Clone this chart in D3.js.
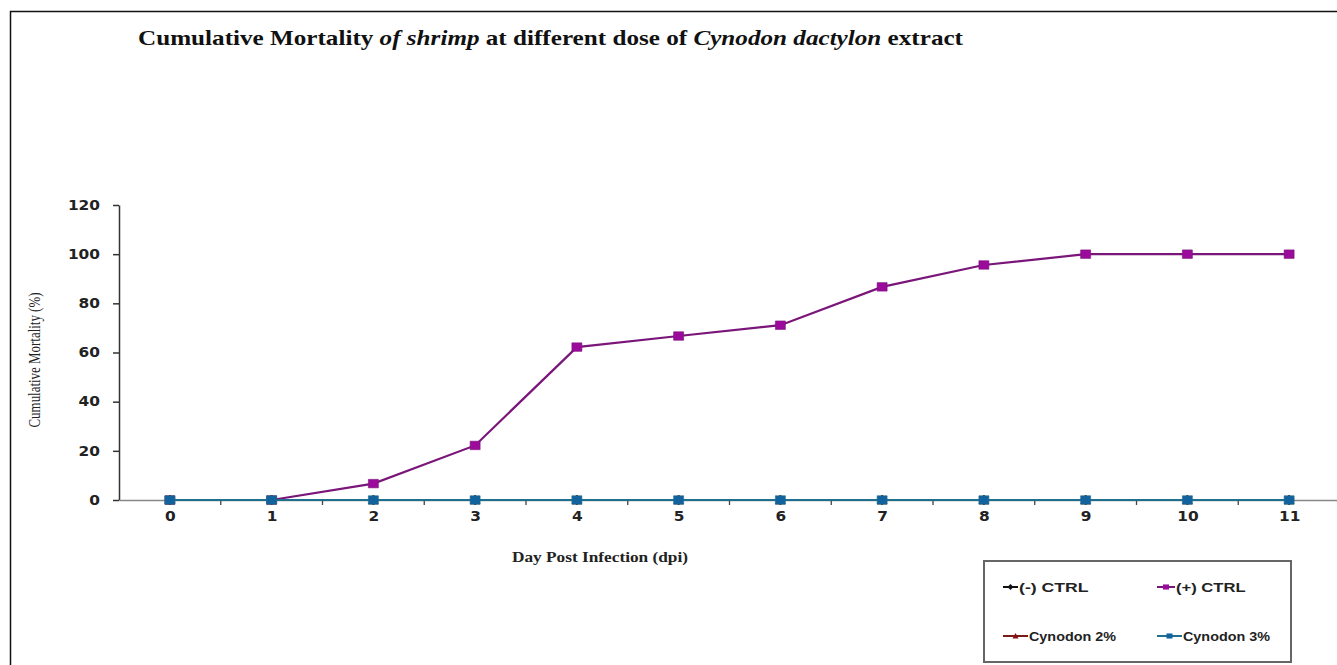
<!DOCTYPE html>
<html>
<head>
<meta charset="utf-8">
<script src="https://cdn.jsdelivr.net/npm/d3@7"></script>
<style>
  html, body { margin: 0; padding: 0; background: #fff; }
  svg { display: block; }
</style>
</head>
<body>
<svg id="chart" width="1337" height="665"></svg>
<script>
// ---- data ----
const days = [0, 1, 2, 3, 4, 5, 6, 7, 8, 9, 10, 11];
const negCtrl = [0, 0, 0, 0, 0, 0, 0, 0, 0, 0, 0, 0];
const posCtrl = [0, 0, 6.67, 22.2, 62.2, 66.7, 71.1, 86.7, 95.6, 100, 100, 100];
const cynodon2 = [0, 0, 0, 0, 0, 0, 0, 0, 0, 0, 0, 0];
const cynodon3 = [0, 0, 0, 0, 0, 0, 0, 0, 0, 0, 0, 0];
const yTicks = [0, 20, 40, 60, 80, 100, 120];
const seriesNames = ["(-) CTRL", "(+) CTRL", "Cynodon 2%", "Cynodon 3%"];

// ---- chart ----
const svg = d3.select("#chart");

// outer frame (left + top)
svg.append("path").attr("d", "M10.5,665 L10.5,11.5 L1337,11.5")
  .attr("fill", "none").attr("stroke", "#111").attr("stroke-width", 1.5);

// title
const title = svg.append("text").attr("x", 138).attr("y", 45)
  .attr("font-family", "Liberation Serif, Times New Roman, serif")
  .attr("font-weight", "bold").attr("font-size", 22).attr("fill", "#111")
  .attr("textLength", 825).attr("lengthAdjust", "spacingAndGlyphs");
title.append("tspan").text("Cumulative Mortality ");
title.append("tspan").attr("font-style", "italic").text("of shrimp");
title.append("tspan").text(" at different dose of ");
title.append("tspan").attr("font-style", "italic").text("Cynodon dactylon");
title.append("tspan").text(" extract");

const x = d3.scaleLinear().domain([-0.5, 11.5]).range([119, 1340]);
const y = d3.scaleLinear().domain([0, 120]).range([500, 205]);

// y axis
const yAxis = svg.append("g").attr("transform", "translate(119,0)")
  .call(d3.axisLeft(y).tickValues(yTicks).tickSize(6).tickPadding(13).tickSizeOuter(0));
yAxis.select(".domain").attr("stroke", "#333").attr("stroke-width", 1.5);
yAxis.selectAll(".tick line").attr("stroke", "#333").attr("stroke-width", 1.5);
yAxis.selectAll(".tick text")
  .attr("font-family", "DejaVu Sans, sans-serif").attr("font-weight", "bold")
  .attr("font-size", 13.5).attr("fill", "#222")
  .attr("textLength", d => String(d).length * 10.7).attr("lengthAdjust", "spacingAndGlyphs");

// x axis
const xAxis = svg.append("g").attr("transform", "translate(0,500)")
  .call(d3.axisBottom(x).tickValues(days).tickSize(0).tickPadding(11).tickFormat(d3.format("d")));
xAxis.select(".domain").attr("stroke", "#888").attr("stroke-width", 1.5);
xAxis.selectAll(".tick text")
  .attr("font-family", "DejaVu Sans, sans-serif").attr("font-weight", "bold")
  .attr("font-size", 13.5).attr("fill", "#222")
  .attr("textLength", d => String(d).length * 10.7).attr("lengthAdjust", "spacingAndGlyphs");
// minor ticks between categories
svg.append("g").selectAll("line").data(days.slice(0, -1)).join("line")
  .attr("x1", d => x(d + 0.5)).attr("x2", d => x(d + 0.5))
  .attr("y1", 500).attr("y2", 505).attr("stroke", "#444").attr("stroke-width", 1.3);

// axis titles
svg.append("text")
  .attr("transform", "translate(40,360) rotate(-90)")
  .attr("text-anchor", "middle")
  .attr("font-family", "Liberation Serif, Times New Roman, serif")
  .attr("font-size", 16).attr("fill", "#222")
  .attr("textLength", 135).attr("lengthAdjust", "spacingAndGlyphs")
  .text("Cumulative Mortality (%)");
svg.append("text")
  .attr("x", 600).attr("y", 562).attr("text-anchor", "middle")
  .attr("font-family", "Liberation Serif, Times New Roman, serif")
  .attr("font-weight", "bold").attr("font-size", 14).attr("fill", "#222")
  .attr("textLength", 176).attr("lengthAdjust", "spacingAndGlyphs")
  .text("Day Post Infection (dpi)");

// series
const series = [
  { name: seriesNames[0], values: negCtrl, line: "#111", fill: "#111", marker: "diamond" },
  { name: seriesNames[1], values: posCtrl, line: "#7a1579", fill: "#9b0a9b", marker: "square" },
  { name: seriesNames[2], values: cynodon2, line: "#7a1a1a", fill: "#8b1010", marker: "triangle" },
  { name: seriesNames[3], values: cynodon3, line: "#1f6f8f", fill: "#12629e", marker: "square" }
];

const line = d3.line().x(d => x(d[0])).y(d => y(d[1]));
function markerPath(kind, s) {
  if (kind === "square") return `M${-s},${-s * 0.85}h${2 * s}v${1.7 * s}h${-2 * s}z`;
  if (kind === "diamond") return `M0,${-s}L${s},0L0,${s}L${-s},0z`;
  return `M0,${-s}L${s},${s * 0.8}L${-s},${s * 0.8}z`;
}

series.forEach(sr => {
  const pts = days.map((d, i) => [d, sr.values[i]]);
  svg.append("path").datum(pts).attr("d", line)
    .attr("fill", "none").attr("stroke", sr.line).attr("stroke-width", 2.2);
  svg.append("g").selectAll("path").data(pts).join("path")
    .attr("transform", d => `translate(${x(d[0])},${y(d[1])})`)
    .attr("d", markerPath(sr.marker, 5))
    .attr("fill", sr.fill).attr("stroke", sr.line).attr("stroke-width", 0.6);
});

// legend
const lg = svg.append("g");
lg.append("rect").attr("x", 984).attr("y", 561).attr("width", 307).attr("height", 101)
  .attr("fill", "#fff").attr("stroke", "#666").attr("stroke-width", 2);
const legPos = [
  { lx: 1003, ly: 587, len: 15 },
  { lx: 1157, ly: 587, len: 18 },
  { lx: 1003, ly: 636, len: 25 },
  { lx: 1157, ly: 636, len: 25 }
];
series.forEach((sr, i) => {
  const p = legPos[i];
  lg.append("line").attr("x1", p.lx).attr("x2", p.lx + p.len).attr("y1", p.ly).attr("y2", p.ly)
    .attr("stroke", sr.line).attr("stroke-width", 2);
  lg.append("path").attr("transform", `translate(${p.lx + p.len / 2},${p.ly})`)
    .attr("d", markerPath(sr.marker, 3)).attr("fill", sr.fill);
  lg.append("text").attr("x", p.lx + p.len + 1).attr("y", p.ly + 4.5)
    .attr("font-family", "Liberation Sans, Arial, sans-serif").attr("font-weight", "bold")
    .attr("font-size", 12.5).attr("fill", "#222")
    .attr("textLength", sr.name.length * 8.7).attr("lengthAdjust", "spacingAndGlyphs")
    .text(sr.name);
});
</script>
</body>
</html>
